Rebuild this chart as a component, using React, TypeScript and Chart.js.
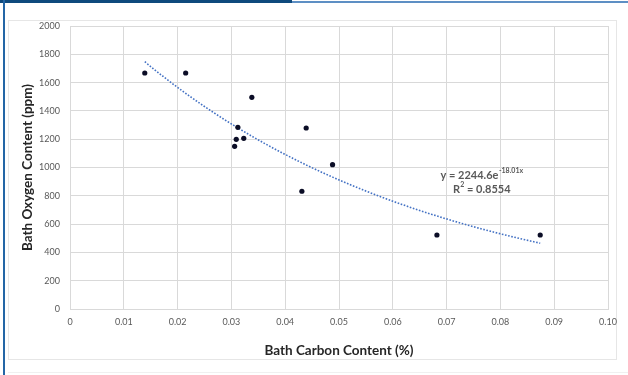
import React, { useEffect, useRef } from "react";
import { Chart, registerables } from "chart.js";

Chart.register(...registerables);

// Measured data (Bath Carbon %, Bath Oxygen ppm)
const carbon = [0.0139, 0.0215, 0.0338, 0.0312, 0.0309, 0.0323, 0.0306, 0.0439, 0.0488, 0.0431, 0.0682, 0.0874];
const oxygen = [1668, 1668, 1496, 1284, 1199, 1206, 1150, 1279, 1020, 832, 523, 523];

// Trendline as displayed on the chart: y = 2244.6 e^(-18.01x), R² = 0.8554
const trendA = 2244.6;
const trendB = -18.01;
const trendFrom = 0.0139;
const trendTo = 0.0874;
const trendSteps = 40;

const xTickLabels = ["0", "0.01", "0.02", "0.03", "0.04", "0.05", "0.06", "0.07", "0.08", "0.09", "0.10"];
const yTickLabels = ["0", "200", "400", "600", "800", "1000", "1200", "1400", "1600", "1800", "2000"];

const xTitle = "Bath Carbon Content (%)";
const yTitle = "Bath Oxygen Content (ppm)";
const eqMain = "y = 2244.6e";
const eqExp = "-18.01x";
const r2Main = "R";
const r2Sup = "2";
const r2Rest = " = 0.8554";

const FONT = "Lato, 'Open Sans', 'DejaVu Sans', sans-serif";

const equationPlugin = {
  id: "equationLabel",
  afterDatasetsDraw(chart: any) {
    const { ctx, scales } = chart;
    const cx = scales.x.getPixelForValue(0.0765);
    const y1 = scales.y.getPixelForValue(947);
    const y2 = scales.y.getPixelForValue(848);
    ctx.save();
    ctx.fillStyle = "#595959";
    ctx.textBaseline = "middle";
    ctx.textAlign = "left";
    const big = `bold 11px ${FONT}`;
    const small = `bold 7px ${FONT}`;
    // line 1
    ctx.font = big;
    const w1 = ctx.measureText(eqMain).width;
    ctx.font = small;
    const w1s = ctx.measureText(eqExp).width;
    let x = cx - (w1 + w1s) / 2;
    ctx.font = big;
    ctx.fillText(eqMain, x, y1);
    ctx.font = small;
    ctx.fillText(eqExp, x + w1 + 0.5, y1 - 4);
    // line 2
    ctx.font = big;
    const wR = ctx.measureText(r2Main).width;
    const wRest = ctx.measureText(r2Rest).width;
    ctx.font = small;
    const wS = ctx.measureText(r2Sup).width;
    x = cx - (wR + wS + wRest) / 2;
    ctx.font = big;
    ctx.fillText(r2Main, x, y2);
    ctx.font = small;
    ctx.fillText(r2Sup, x + wR + 0.3, y2 - 4);
    ctx.font = big;
    ctx.fillText(r2Rest, x + wR + wS + 0.3, y2);
    ctx.restore();
  },
};

export default function App() {
  const ref = useRef<HTMLCanvasElement | null>(null);

  useEffect(() => {
    if (!ref.current) return;
    const points = carbon.map((c, i) => ({ x: c, y: oxygen[i] }));
    const trend: { x: number; y: number }[] = [];
    for (let i = 0; i <= trendSteps; i++) {
      const xv = trendFrom + ((trendTo - trendFrom) * i) / trendSteps;
      trend.push({ x: xv, y: trendA * Math.exp(trendB * xv) });
    }
    const grid = "#d9d9d9";
    const chart = new Chart(ref.current, {
      type: "scatter",
      data: {
        datasets: [
          {
            type: "line",
            data: trend,
            borderColor: "#4472c4",
            borderWidth: 1.6,
            borderDash: [1.6, 1.6],
            pointRadius: 0,
            fill: false,
            tension: 0,
            order: 2,
          } as any,
          {
            data: points,
            backgroundColor: "#0b0d26",
            borderColor: "#0b0d26",
            pointRadius: 2.6,
            borderWidth: 0,
            order: 1,
          },
        ],
      },
      options: {
        responsive: false,
        devicePixelRatio: 1,
        animation: false,
        events: [],
        layout: { padding: { left: 0, right: 20, top: 26, bottom: 10 } },
        plugins: { legend: { display: false }, tooltip: { enabled: false } },
        scales: {
          x: {
            type: "linear",
            min: 0,
            max: 0.1,
            grid: { color: grid, lineWidth: 1, drawTicks: false },
            border: { color: grid, width: 1 },
            ticks: {
              stepSize: 0.01,
              autoSkip: false,
              maxRotation: 0,
              padding: 8,
              color: "#595959",
              font: { family: FONT, size: 9 },
              callback: (_v: any, i: number) => xTickLabels[i],
            },
            title: {
              display: true,
              text: xTitle,
              color: "#262626",
              font: { family: FONT, size: 13.5, weight: "bold" },
              padding: { top: 0, bottom: 6 },
            },
            afterFit: (s: any) => {
              s.height = 375 - 309 - 10;
            },
          },
          y: {
            type: "linear",
            min: 0,
            max: 2000,
            grid: { color: grid, lineWidth: 1, drawTicks: false },
            border: { color: grid, width: 1 },
            ticks: {
              stepSize: 200,
              autoSkip: false,
              padding: 10,
              color: "#595959",
              font: { family: FONT, size: 9 },
              callback: (_v: any, i: number) => yTickLabels[i],
            },
            title: {
              display: true,
              text: yTitle,
              color: "#262626",
              font: { family: FONT, size: 13.5, weight: "bold" },
              padding: { top: 20, bottom: 0 },
            },
            afterFit: (s: any) => {
              s.width = 70;
            },
          },
        },
      },
      plugins: [equationPlugin],
    });
    return () => chart.destroy();
  }, []);

  return (
    <div style={{ position: "absolute", left: 0, top: 0, width: 628, height: 375, background: "#ffffff", overflow: "hidden" }}>
      <div style={{ position: "absolute", left: 0, top: 0, width: 292, height: 3, background: "#0f4a7d" }} />
      <div style={{ position: "absolute", left: 292, top: 1, width: 336, height: 2, background: "#5d8fc4" }} />
      <div style={{ position: "absolute", left: 3, top: 0, width: 2, height: 375, background: "#2466a6" }} />
      <div style={{ position: "absolute", left: 8, top: 20, width: 609, height: 340, border: "1px solid #e6e6e6", boxSizing: "border-box" }} />
      <div style={{ position: "absolute", left: 8, top: 372, width: 620, height: 1, background: "#f0f0f0" }} />
      <canvas ref={ref} width={628} height={375} style={{ position: "absolute", left: 0, top: 0, width: 628, height: 375 }} />
    </div>
  );
}
